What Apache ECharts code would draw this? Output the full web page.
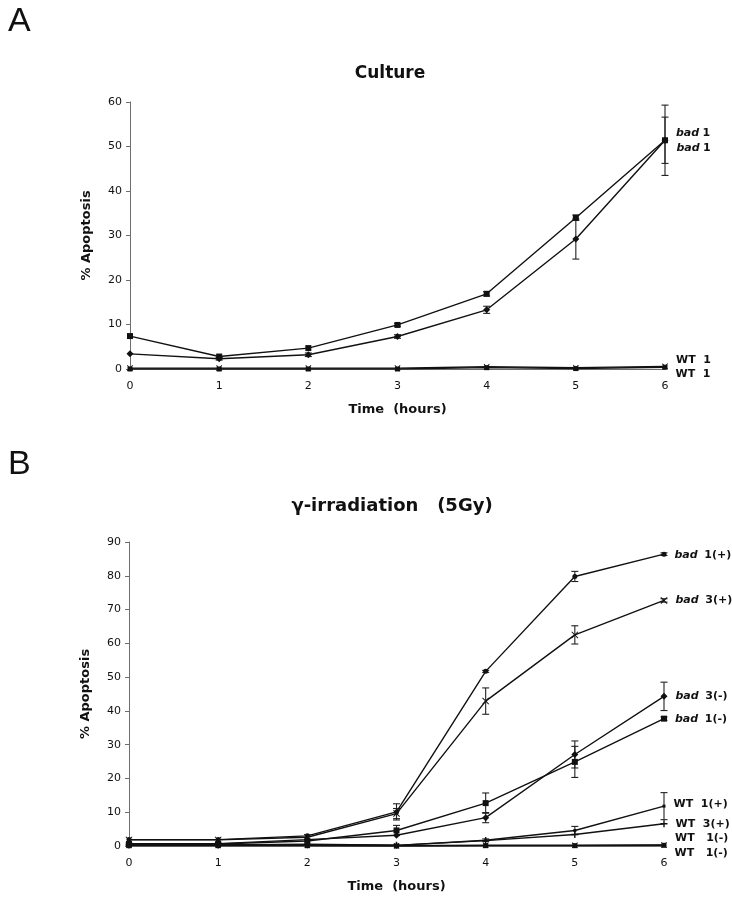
<!DOCTYPE html>
<html><head><meta charset="utf-8">
<script src="https://cdn.jsdelivr.net/npm/echarts@6/dist/echarts.min.js"></script>
<style>html,body{margin:0;padding:0;background:#fff}#c{width:732px;height:899px}</style>
</head><body><div id="c"></div>
<script>
// ---------- data ----------
const hours = [0, 1, 2, 3, 4, 5, 6];

// Panel A: Culture
const cultBadSq      = [7.4, 2.8, 4.7, 9.9, 16.9, 34.0, 51.4];
const cultBadSqErr   = [null, null, null, 0.3, 0.5, 0.6, 5.2];
const cultBadDia     = [3.4, 2.3, 3.2, 7.3, 13.3, 29.2, 51.4];
const cultBadDiaErr  = [null, 0.3, 0.4, 0.4, 0.8, 4.5, 7.9];
const cultWTa        = [0.2, 0.2, 0.2, 0.2, 0.5, 0.3, 0.6];
const cultWTb        = [0.0, 0.0, 0.0, 0.0, 0.3, 0.1, 0.4];

// Panel B: gamma-irradiation (5Gy)
const irrBad1p    = [1.9, 1.9, 3.0, 10.1, 51.7, 79.8, 86.4];
const irrBad1pErr = [null, null, null, 2.4, 0.3, 1.5, 0.4];
const irrBad3p    = [1.8, 1.8, 2.6, 9.6, 42.9, 62.5, 72.7];
const irrBad3pErr = [null, null, null, 1.5, 3.9, 2.7, 0.5];
const irrBad3m    = [0.7, 0.7, 1.9, 3.2, 8.4, 27.1, 44.3];
const irrBad3mErr = [null, null, null, null, 1.5, 4.0, 4.2];
const irrBad1m    = [0.6, 0.6, 1.5, 4.6, 12.7, 24.9, 37.7];
const irrBad1mErr = [null, null, null, 1.5, 3.0, 4.6, 0.5];
const irrWT1p     = [0.3, 0.3, 0.5, 0.2, 1.7, 4.6, 11.8];
const irrWT1pErr  = [null, null, null, null, 0.4, 1.2, 4.0];
const irrWT3p     = [0.3, 0.3, 0.4, 0.2, 1.6, 3.4, 6.6];
const irrWT3pErr  = [null, null, null, null, null, null, null];
const irrWT1ma    = [0.2, 0.2, 0.2, 0.1, 0.2, 0.2, 0.3];
const irrWT1mb    = [0.1, 0.1, 0.1, 0.0, 0.1, 0.1, 0.2];

const yTicksA = [0, 10, 20, 30, 40, 50, 60];
const yTicksB = [0, 10, 20, 30, 40, 50, 60, 70, 80, 90];

// ---------- styling ----------
const INK = '#111';
const AX = '#6e6e6e';
const FONT = '"DejaVu Sans", "Liberation Sans", sans-serif';
const SYM_X = 'path://M1,0L5,4L9,0L10,1L6,5L10,9L9,10L5,6L1,10L0,9L4,5L0,1Z';
const SYM_PLUS = 'path://M4,0H6V4H10V6H6V10H4V6H0V4H4Z';

const rich = {
  i: {fontStyle: 'italic', fontWeight: 'bold', fontSize: 11, color: INK, fontFamily: FONT},
  n: {fontWeight: 'bold', fontSize: 11, color: INK, fontFamily: FONT}
};

function lineSeries(idx, vals, symbol, size, labelFmt, dy) {
  const data = vals.map((v, i) => {
    const item = {value: [hours[i], v]};
    if (i === vals.length - 1 && labelFmt) {
      item.label = {show: true, position: 'right', distance: 8, offset: [0, dy],
        formatter: labelFmt, rich: rich};
    }
    return item;
  });
  return {
    type: 'line', xAxisIndex: idx, yAxisIndex: idx, data: data,
    symbol: symbol, symbolSize: size, showSymbol: true,
    lineStyle: {color: INK, width: 1.4},
    itemStyle: {color: INK, borderColor: INK, borderWidth: 0},
    emphasis: {disabled: true}, animation: false, z: 3
  };
}

function errSeries(idx, vals, errs) {
  const data = [];
  vals.forEach((v, i) => { if (errs[i] != null) data.push([hours[i], v - errs[i], v + errs[i]]); });
  return {
    type: 'custom', xAxisIndex: idx, yAxisIndex: idx, data: data,
    encode: {x: 0, y: [1, 2]}, animation: false, z: 2,
    renderItem: (params, api) => {
      const x = api.value(0), lo = api.value(1), hi = api.value(2);
      const p1 = api.coord([x, lo]), p2 = api.coord([x, hi]);
      const w = 3.5, st = {stroke: '#222', lineWidth: 1.1};
      return {type: 'group', children: [
        {type: 'line', shape: {x1: p1[0], y1: p1[1], x2: p2[0], y2: p2[1]}, style: st},
        {type: 'line', shape: {x1: p1[0] - w, y1: p1[1], x2: p1[0] + w, y2: p1[1]}, style: st},
        {type: 'line', shape: {x1: p2[0] - w, y1: p2[1], x2: p2[0] + w, y2: p2[1]}, style: st}
      ]};
    }
  };
}

function xAxis(idx) {
  return {
    type: 'value', gridIndex: idx, min: 0, max: 6, interval: 1,
    name: 'Time  (hours)', nameLocation: 'middle', nameGap: 34,
    nameTextStyle: {fontFamily: FONT, fontWeight: 'bold', fontSize: 13, color: INK},
    axisLine: {show: true, lineStyle: {color: AX, width: 1}},
    axisTick: {show: false}, splitLine: {show: false},
    axisLabel: {margin: 12, fontFamily: FONT, fontSize: 11, color: INK}
  };
}
function yAxis(idx, max) {
  return {
    type: 'value', gridIndex: idx, min: 0, max: max, interval: 10,
    name: '% Apoptosis', nameLocation: 'middle', nameGap: 37, nameRotate: 90,
    nameTextStyle: {fontFamily: FONT, fontWeight: 'bold', fontSize: 13, color: INK},
    axisLine: {show: true, lineStyle: {color: AX, width: 1}},
    axisTick: {show: true, length: 4, lineStyle: {color: AX}},
    splitLine: {show: false},
    axisLabel: {margin: 8, fontFamily: FONT, fontSize: 11, color: INK}
  };
}

const chart = echarts.init(document.getElementById('c'), null, {renderer: 'canvas'});
chart.setOption({
  backgroundColor: '#fff',
  animation: false,
  title: [
    {text: 'A', left: 3, top: 0, textStyle: {fontFamily: '"Liberation Sans", sans-serif', fontWeight: 'normal', fontSize: 34, color: INK}},
    {text: 'Culture', left: 385, top: 60, textAlign: 'center', textStyle: {fontFamily: FONT, fontWeight: 'bold', fontSize: 17, color: INK}},
    {text: 'B', left: 3, top: 443, textStyle: {fontFamily: '"Liberation Sans", sans-serif', fontWeight: 'normal', fontSize: 34, color: INK}},
    {text: 'γ-irradiation   (5Gy)', left: 387, top: 492, textAlign: 'center', textStyle: {fontFamily: FONT, fontWeight: 'bold', fontSize: 18, color: INK}}
  ],
  grid: [
    {left: 130, top: 102, width: 535, height: 267},
    {left: 129, top: 542, width: 535, height: 304}
  ],
  xAxis: [xAxis(0), xAxis(1)],
  yAxis: [yAxis(0, 60), yAxis(1, 90)],
  series: [
    errSeries(0, cultBadSq, cultBadSqErr),
    errSeries(0, cultBadDia, cultBadDiaErr),
    lineSeries(0, cultWTa, SYM_X, 6, '{n|WT  1}', -6),
    lineSeries(0, cultWTb, 'rect', 5, '{n|WT  1}', 7),
    lineSeries(0, cultBadSq, 'rect', 6, '{i|bad} {n|1}', -7),
    lineSeries(0, cultBadDia, 'diamond', 7, '{i|bad} {n|1}', 8),

    errSeries(1, irrBad1p, irrBad1pErr),
    errSeries(1, irrBad3p, irrBad3pErr),
    errSeries(1, irrBad3m, irrBad3mErr),
    errSeries(1, irrBad1m, irrBad1mErr),
    errSeries(1, irrWT1p, irrWT1pErr),
    errSeries(1, irrWT3p, irrWT3pErr),
    lineSeries(1, irrWT1ma, SYM_X, 6, '{n|WT   1(-)}', -7),
    lineSeries(1, irrWT1mb, 'rect', 5, '{n|WT   1(-)}', 8),
    lineSeries(1, irrWT3p, SYM_PLUS, 7, '{n|WT  3(+)}', 0),
    lineSeries(1, irrWT1p, 'rect', 3, '{n|WT  1(+)}', -2),
    lineSeries(1, irrBad1m, 'rect', 6, '{i|bad}  {n|1(-)}', 0),
    lineSeries(1, irrBad3m, 'diamond', 7, '{i|bad}  {n|3(-)}', 0),
    lineSeries(1, irrBad3p, SYM_X, 7, '{i|bad}  {n|3(+)}', 0),
    lineSeries(1, irrBad1p, 'circle', 5, '{i|bad}  {n|1(+)}', 1)
  ]
});
</script></body></html>
